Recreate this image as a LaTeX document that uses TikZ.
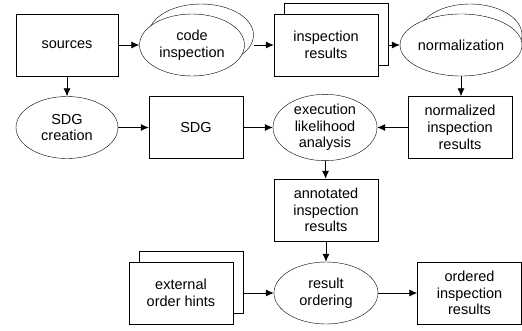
\documentclass[tikz,border=0pt]{standalone}
\usepackage{fontspec}
\setmainfont{Liberation Sans}
\usetikzlibrary{shapes,arrows.meta,positioning}

\begin{document}
\begin{tikzpicture}[x=1pt, y=-1pt,
    font=\fontsize{14.5}{16.7}\selectfont,
    proc/.style={draw, ellipse, fill=white, minimum width=104pt, minimum height=62pt, inner sep=0pt, align=center},
    datum/.style={draw, rectangle, fill=white, minimum width=104pt, minimum height=62pt, inner sep=0pt, align=center},
    flow/.style={-{Latex[length=8pt,width=7pt]}, line width=0.8pt}]
    \useasboundingbox (0,0) rectangle (522,330);

    % first row
    \node[datum, minimum width=102pt] (sources) at (67,45) {sources};
    \node[proc, minimum width=105pt] (codeback) at (201,35) {};
    \node[proc, minimum width=105pt] (code) at (192,45) {code\\inspection};
    \node[datum] (inspback) at (336,34) {};
    \node[datum] (insp) at (326,45) {inspection\\results};
    \node[proc] (normback) at (470,35) {};
    \node[proc] (norm) at (461,45) {normalization};

    % second row
    \node[proc, minimum width=102pt] (sdgcreation) at (67,127.5) {SDG\\creation};
    \node[datum, minimum width=94pt] (sdg) at (196,127.5) {SDG};
    \node[proc] (exec) at (325,127.5) {execution\\likelihood\\analysis};
    \node[datum] (normres) at (460,127.5) {normalized\\inspection\\results};

    % lower part
    \node[datum] (annot) at (326,210) {annotated\\inspection\\results};
    \node[datum] (hintsback) at (191,282) {};
    \node[datum] (hints) at (181,293) {external\\order hints};
    \node[proc] (order) at (326,293) {result\\ordering};
    \node[datum] (ordered) at (469.5,293) {ordered\\inspection\\results};

    \draw[flow] (sources) -- (code);
    \draw[flow] (codeback.east |- code) -- (insp);
    \draw[flow] (inspback.east |- insp) -- (norm);
    \draw[flow] (sources) -- (sdgcreation);
    \draw[flow] (norm) -- (norm |- normres.north);
    \draw[flow] (sdgcreation) -- (sdg);
    \draw[flow] (sdg) -- (exec);
    \draw[flow] (normres) -- (exec);
    \draw[flow] (exec) -- (annot);
    \draw[flow] (annot) -- (order);
    \draw[flow] (hintsback.east |- hints) -- (order);
    \draw[flow] (order) -- (ordered);
\end{tikzpicture}
\end{document}
